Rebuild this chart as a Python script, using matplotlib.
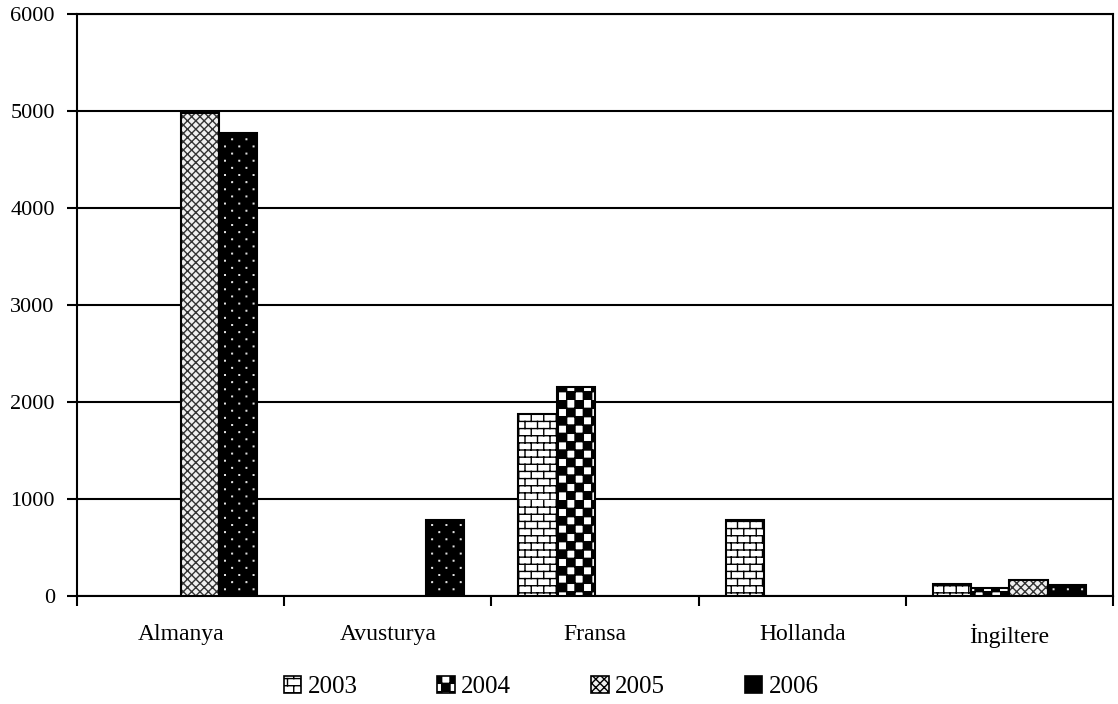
#!/usr/bin/env python3
"""Bar chart: values by country and year, with patterned bars (black & white print style)."""

import warnings

import matplotlib

matplotlib.use("Agg")
import matplotlib.hatch as mhatch
import matplotlib.pyplot as plt
import numpy as np
from matplotlib.patches import Patch
from matplotlib.path import Path

warnings.filterwarnings("ignore")

countries = ["Almanya", "Avusturya", "Fransa", "Hollanda", "İngiltere"]
years = ["2003", "2004", "2005", "2006"]
v2003 = [0, 0, 1880, 780, 120]
v2004 = [0, 0, 2150, 0, 80]
v2005 = [4980, 0, 0, 0, 165]
v2006 = [4770, 780, 0, 0, 110]
y_ticks = [0, 1000, 2000, 3000, 4000, 5000, 6000]


class BrickHatch(mhatch.HatchPatternBase):
    """'b' -> brick wall pattern."""
    rows = 14
    cols = 8

    def __init__(self, hatch, density):
        self.on = hatch.count("b") > 0
        self.num_vertices = (self.rows + self.rows * self.cols) * 2 if self.on else 0

    def set_vertices_and_codes(self, vertices, codes):
        k = 0
        for i in range(self.rows):
            y0 = i / self.rows
            vertices[k] = (0.0, y0)
            vertices[k + 1] = (1.0, y0)
            codes[k] = Path.MOVETO
            codes[k + 1] = Path.LINETO
            k += 2
            off = 0.5 * (i % 2)
            for j in range(self.cols):
                x = (j + off) / self.cols
                vertices[k] = (x, y0)
                vertices[k + 1] = (x, (i + 1) / self.rows)
                codes[k] = Path.MOVETO
                codes[k + 1] = Path.LINETO
                k += 2


class CheckerHatch(mhatch.HatchPatternBase):
    """'c' -> checkerboard of filled squares."""
    n = 12

    def __init__(self, hatch, density):
        self.on = hatch.count("c") > 0
        self.num_vertices = (self.n * self.n // 2) * 5 if self.on else 0

    def set_vertices_and_codes(self, vertices, codes):
        s = 1.0 / self.n
        k = 0
        for i in range(self.n):
            for j in range(self.n):
                if (i + j) % 2:
                    continue
                x, y = j * s, i * s
                vertices[k:k + 5] = [(x, y), (x + s, y), (x + s, y + s), (x, y + s), (x, y)]
                codes[k] = Path.MOVETO
                codes[k + 1:k + 4] = Path.LINETO
                codes[k + 4] = Path.CLOSEPOLY
                k += 5


class DotHatch(mhatch.HatchPatternBase):
    """'d' -> sparse staggered dots."""
    rows = 14
    cols = 7
    d = 0.003

    def __init__(self, hatch, density):
        self.on = hatch.count("d") > 0
        self.num_vertices = self.rows * self.cols * 5 if self.on else 0

    def set_vertices_and_codes(self, vertices, codes):
        d = self.d
        k = 0
        for i in range(self.rows):
            y = (i + 0.5) / self.rows
            off = 0.5 * (i % 2)
            for j in range(self.cols):
                x = (j + 0.25 + off) / self.cols
                vertices[k:k + 5] = [(x - d, y - d), (x + d, y - d), (x + d, y + d),
                                     (x - d, y + d), (x - d, y - d)]
                codes[k] = Path.MOVETO
                codes[k + 1:k + 4] = Path.LINETO
                codes[k + 4] = Path.CLOSEPOLY
                k += 5


mhatch._hatch_types.extend([BrickHatch, CheckerHatch, DotHatch])

plt.rcParams["font.family"] = ["Liberation Serif", "DejaVu Serif"]
plt.rcParams["hatch.linewidth"] = 1.0

# (facecolor, hatch, hatch colour) per year
styles = [
    ("white", "b", "black"),
    ("white", "c", "black"),
    ("#f0f0f0", "xxxx", "#333333"),
    ("black", "d", "#e0e0e0"),
]
series = [v2003, v2004, v2005, v2006]

fig = plt.figure(figsize=(11.18, 7.04), dpi=100)
ax = fig.add_axes([0.0689, 0.1534, 0.9266, 0.8267])

x = np.arange(len(countries))
w = 0.185
for k, (vals, (fc, hatch, hc)) in enumerate(zip(series, styles)):
    pos = x + (k - 1.5) * w
    vals = np.array(vals)
    mask = vals > 0
    ax.bar(pos[mask], vals[mask], width=w, color=fc, hatch=hatch, edgecolor=hc,
           linewidth=0, zorder=3)
    ax.bar(pos[mask], vals[mask], width=w, fill=False, edgecolor="black",
           linewidth=1.5, zorder=4)

ax.set_ylim(0, 6000)
ax.set_xlim(-0.5, len(countries) - 0.5)
ax.set_yticks(y_ticks)
ax.set_yticklabels([str(t) for t in y_ticks], fontsize=16)
ax.yaxis.grid(True, color="black", linewidth=1.5, zorder=1)
ax.set_axisbelow(True)

ax.set_xticks(x)
ax.set_xticklabels(countries, fontsize=17)
ax.set_xticks(np.arange(len(countries) + 1) - 0.5, minor=True)
ax.tick_params(axis="x", which="major", length=0, pad=20)
ax.tick_params(axis="x", which="minor", length=7, width=1.5, direction="out")
ax.tick_params(axis="y", length=7, width=1.5, direction="out", pad=9)

for s in ax.spines.values():
    s.set_color("black")
    s.set_linewidth(1.5)

handles = [Patch(facecolor=fc, hatch=h, edgecolor=hc, linewidth=0) for fc, h, hc in styles]
leg = fig.legend(handles, years, loc="center", bbox_to_anchor=(0.493, 0.024), ncol=4,
                 frameon=False, fontsize=18, handlelength=0.7, handleheight=0.7,
                 handletextpad=0.25, columnspacing=3.2, borderpad=0.1)
for hp in leg.legend_handles:
    hp.set_edgecolor("black")
    hp.set_linewidth(1.2)

fig.savefig("out.png", dpi=100, facecolor="white")
plt.close()
